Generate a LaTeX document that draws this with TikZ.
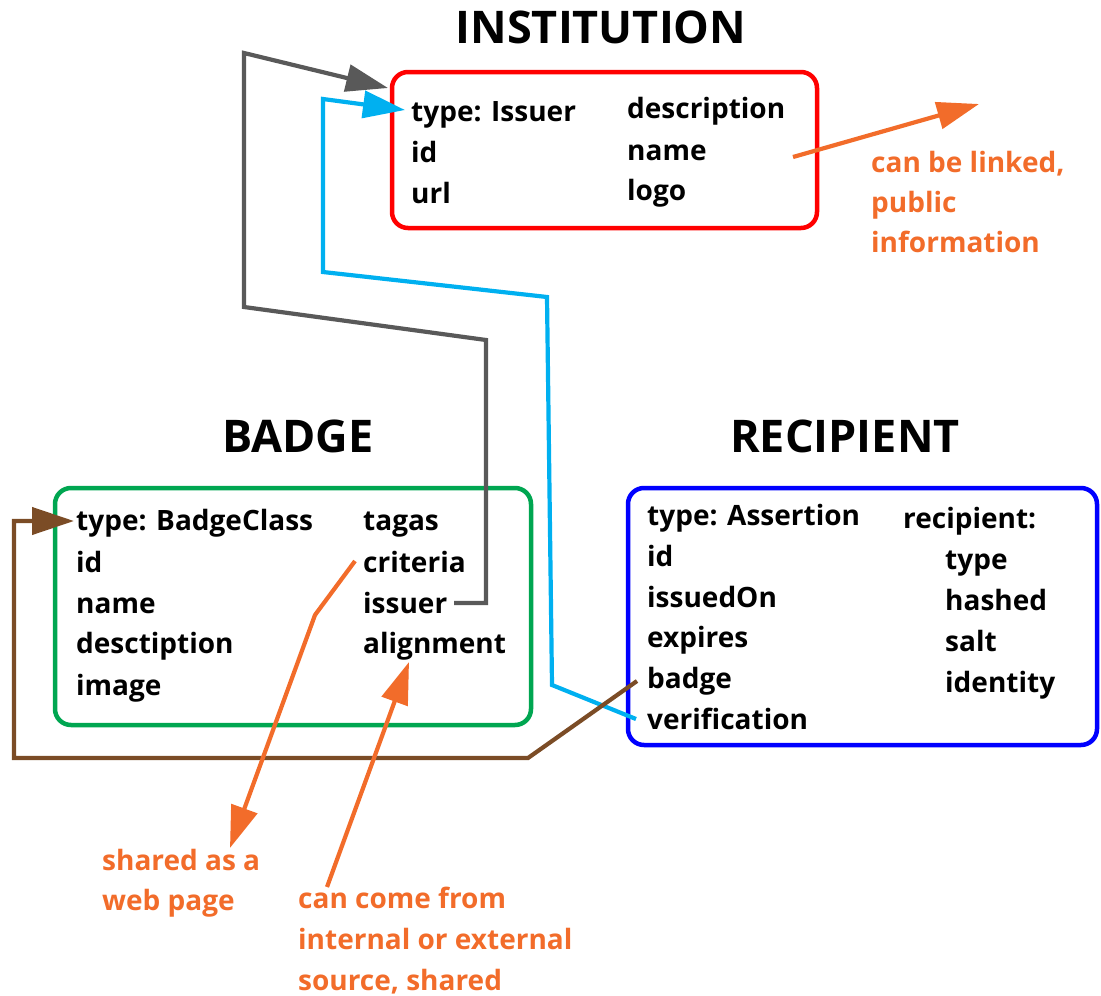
\documentclass[tikz,border=0pt]{standalone}
\usepackage{fontspec}
\setmainfont{Open Sans}
\usetikzlibrary{arrows.meta,calc}
\definecolor{cgray}{RGB}{89,89,89}
\definecolor{ccyan}{RGB}{0,176,240}
\definecolor{cbrown}{RGB}{123,76,38}
\definecolor{corange}{RGB}{242,108,42}
\definecolor{cgreen}{RGB}{0,166,81}
\definecolor{cred}{RGB}{255,0,0}
\definecolor{cblue}{RGB}{0,0,255}
\tikzset{
  fld/.style={anchor=base west,inner sep=0pt,font=\fontsize{28}{33}\selectfont\bfseries},
  ttl/.style={anchor=base,inner sep=0pt,font=\fontsize{45}{50}\selectfont\bfseries},
  note/.style={anchor=base west,inner sep=0pt,text=corange,font=\fontsize{28}{33}\selectfont\bfseries},
  boxline/.style={line width=4.5pt,rounded corners=16pt},
  conn/.style={line width=4.2pt,line join=miter},
  tip/.style={-{Triangle[length=42pt,width=27pt]}},
}
\begin{document}
\begin{tikzpicture}[x=1pt,y=-1pt]
\useasboundingbox (0,0) rectangle (1101,996);
% titles
\node[ttl] (tinst) at (601,43) {INSTITUTION};
\node[ttl] (tbadge) at (298,452) {BADGE};
\node[ttl] (trec) at (845,452) {RECIPIENT};
% boxes
\draw[boxline,cred] (392,72) rectangle (817,228);
\draw[boxline,cgreen] (55,488) rectangle (531,725);
\draw[boxline,cblue] (628,488) rectangle (1097,745);
% institution fields
\node[fld] (itype) at (411,121) {type: Issuer};
\node[fld] (iid) at (411,162) {id};
\node[fld] (iurl) at (411,203) {url};
\node[fld] (idesc) at (627,118) {description};
\node[fld] (iname) at (627,160) {name};
\node[fld] (ilogo) at (627,200) {logo};
% badge fields
\node[fld] (btype) at (76,530) {type: BadgeClass};
\node[fld] (bid) at (76,572) {id};
\node[fld] (bname) at (76,613) {name};
\node[fld] (bdesc) at (76,653) {desctiption};
\node[fld] (bimage) at (76,695) {image};
\node[fld] (btagas) at (363,530) {tagas};
\node[fld] (bcrit) at (363,572) {criteria};
\node[fld] (bissuer) at (363,613) {issuer};
\node[fld] (balign) at (363,653) {alignment};
% recipient fields
\node[fld] (rtype) at (647,525) {type: Assertion};
\node[fld] (rid) at (647,566) {id};
\node[fld] (rissued) at (647,607) {issuedOn};
\node[fld] (rexp) at (647,647) {expires};
\node[fld] (rbadge) at (647,688) {badge};
\node[fld] (rverif) at (647,729) {verification};
\node[fld] (rrec) at (903,528) {recipient:};
\node[fld] (rrtype) at (945,569) {type};
\node[fld] (rhash) at (945,610) {hashed};
\node[fld] (rsalt) at (945,651) {salt};
\node[fld] (rident) at (945,692) {identity};
% notes
\node[note] (n1a) at (871,172) {can be linked,};
\node[note] (n1b) at (871,212) {public};
\node[note] (n1c) at (871,252) {information};
\node[note] (n2a) at (102,870) {shared as a};
\node[note] (n2b) at (102,910) {web page};
\node[note] (n3a) at (298,908) {can come from};
\node[note] (n3b) at (298,949) {internal or external};
\node[note] (n3c) at (298,990) {source, shared};
% connector points
\coordinate (gS) at (454,603);
\coordinate (g1) at (486,603);
\coordinate (g2) at (486,340);
\coordinate (g3) at (244,307);
\coordinate (g4) at (244,53);
\coordinate (gE) at (388,88);
\coordinate (cS) at (636,719);
\coordinate (c1) at (552,685);
\coordinate (c2) at (547,297);
\coordinate (c3) at (323,272);
\coordinate (c4) at (323,99);
\coordinate (cE) at (405,110);
\coordinate (bS) at (637,681);
\coordinate (b1) at (528,758);
\coordinate (b2) at (14,758);
\coordinate (b3) at (14,521);
\coordinate (bE) at (74,521);
\coordinate (o1S) at (793,157);
\coordinate (o1E) at (979,104);
\coordinate (o2S) at (355,561);
\coordinate (o2a) at (315,615);
\coordinate (o2E) at (230,848);
\coordinate (o3S) at (327,887);
\coordinate (o3E) at (409,662);
% connectors
\draw[conn,cgray,tip] (gS) -- (g1) -- (g2) -- (g3) -- (g4) -- (gE);
\draw[conn,ccyan,tip] (cS) -- (c1) -- (c2) -- (c3) -- (c4) -- (cE);
\draw[conn,cbrown,tip] (bS) -- (b1) -- (b2) -- (b3) -- (bE);
\draw[conn,corange,tip] (o1S) -- (o1E);
\draw[conn,corange,tip] (o2S) -- (o2a) -- (o2E);
\draw[conn,corange,tip] (o3S) -- (o3E);
\end{tikzpicture}
\end{document}
